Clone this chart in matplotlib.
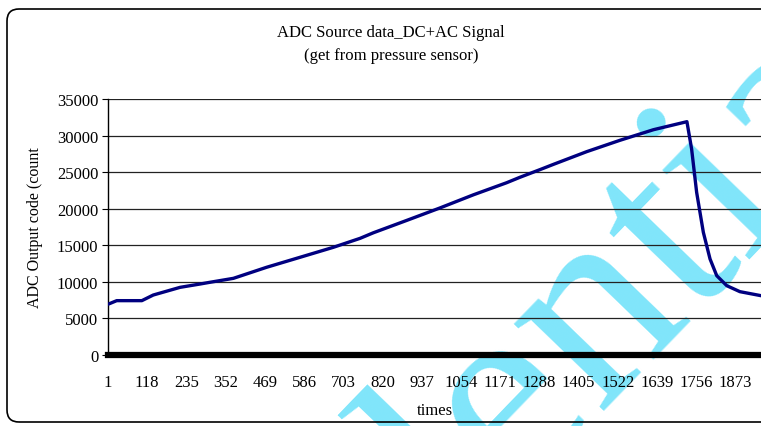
import matplotlib
matplotlib.use("Agg")
import matplotlib.pyplot as plt
from matplotlib.patches import FancyBboxPatch
from matplotlib.transforms import IdentityTransform

# points (sample index, ADC count)
times = [1, 7, 27, 102, 136, 216, 275, 305, 375, 474, 574, 673, 753, 792, 892,
         991, 1091, 1190, 1230, 1290, 1329, 1429, 1528, 1628, 1728,
         1742, 1757, 1777, 1797, 1817, 1847, 1886, 1949]
adc = [6950, 7050, 7430, 7430, 8200, 9250, 9700, 9940, 10480, 11990, 13360, 14720,
       15950, 16700, 18400, 20100, 21900, 23550, 24300, 25350, 26050, 27800,
       29350, 30800, 31900,
       28165, 22240, 16770, 13125, 10840, 9475, 8660, 8110]

xticks = list(range(1, 1874, 117))
yticks = list(range(0, 35001, 5000))

serif = "Liberation Serif"
plt.rcParams['font.family'] = serif

fig = plt.figure(figsize=(7.61, 4.27), dpi=100)

# watermark behind the chart
fig.text(0.544, -0.174, "Confidential", fontsize=195, color="#80E5FA",
         rotation=46, ha="center", va="center", rotation_mode="anchor", zorder=0)

# outer chart frame with rounded corner
frame = FancyBboxPatch((7, 4), 800, 413, boxstyle="round,pad=0,rounding_size=12",
                       transform=IdentityTransform(), facecolor="none",
                       edgecolor="black", linewidth=1.2, zorder=1)
fig.add_artist(frame)

ax = fig.add_axes([108 / 761, 71 / 427, 1 - 108 / 761, 256 / 427])
ax.set_facecolor("none")
ax.set_zorder(2)

ax.plot(times, adc, color="#000080", linewidth=2.4, zorder=3)

ax.set_xlim(1, 1949)
ax.set_ylim(0, 35000)
ax.set_xticks(xticks)
ax.set_yticks(yticks)
ax.tick_params(axis="x", length=0, pad=14, labelsize=12)
ax.tick_params(axis="y", length=4, width=0.8, pad=3, labelsize=12)
ax.yaxis.grid(True, color="#222222", linewidth=0.9)
ax.set_axisbelow(True)

for s in ["top", "right"]:
    ax.spines[s].set_visible(False)
ax.spines["left"].set_linewidth(1.0)
ax.spines["bottom"].set_linewidth(4.5)

ax.set_ylabel("ADC Output code (count", fontsize=11.5, labelpad=10)
ax.set_xlabel("times", fontsize=12, labelpad=8)

fig.text(391 / 761, 1 - 33 / 427, "ADC Source data_DC+AC Signal", fontsize=12,
         ha="center", va="center")
fig.text(391 / 761, 1 - 56 / 427, "(get from pressure sensor)", fontsize=12,
         ha="center", va="center")

fig.savefig("out.png", dpi=100)
